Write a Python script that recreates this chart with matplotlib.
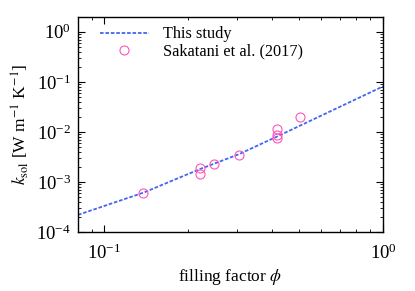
import matplotlib
matplotlib.use("Agg")
import matplotlib.pyplot as plt
from matplotlib.ticker import LogLocator, NullFormatter

plt.rcParams['font.family'] = ['Liberation Serif', 'DejaVu Serif']
plt.rcParams['mathtext.fontset'] = 'stix'

# This study (model curve, read at sample points)
model_phi = [0.0804, 0.138, 0.220, 0.304, 0.416, 1.0]
model_k = [2.2e-4, 6.1e-4, 1.80e-3, 3.58e-3, 8.05e-3, 8.1e-2]

# Sakatani et al. (2017)
obs_phi = [0.138, 0.221, 0.221, 0.247, 0.303, 0.416, 0.416, 0.416, 0.505]
obs_k = [6.1e-4, 1.88e-3, 1.43e-3, 2.32e-3, 3.42e-3, 1.13e-2, 8.6e-3, 7.6e-3, 1.97e-2]

fig = plt.figure(figsize=(4.15, 2.91), dpi=100)
ax = fig.add_axes([78/415, 1-232/291, (383-78)/415, (232-16.7)/291])

ax.plot(model_phi, model_k, color='#4466ee', linestyle=(0, (2, 1)), linewidth=1.3,
        label='This study')
ax.plot(obs_phi, obs_k, linestyle='none', marker='o', markersize=6.5,
        markerfacecolor='none', markeredgecolor='#ff55bb', markeredgewidth=0.8,
        label='Sakatani et al. (2017)')

ax.set_xscale('log')
ax.set_yscale('log')
ax.set_xlim(0.0804, 1.0)
ax.set_ylim(1e-4, 2.0)

ax.xaxis.set_major_locator(LogLocator(base=10, numticks=10))
ax.xaxis.set_minor_locator(LogLocator(base=10, subs=range(2, 10), numticks=10))
ax.yaxis.set_major_locator(LogLocator(base=10, numticks=10))
ax.yaxis.set_minor_locator(LogLocator(base=10, subs=range(2, 10), numticks=10))
ax.xaxis.set_minor_formatter(NullFormatter())
ax.yaxis.set_minor_formatter(NullFormatter())

ax.tick_params(which='both', direction='in', top=True, right=True, labelsize=13.5)
ax.tick_params(which='major', length=5, width=0.8)
ax.tick_params(which='minor', length=2.5, width=0.6)
ax.tick_params(axis='x', pad=8)
ax.tick_params(axis='y', pad=5)
for s in ax.spines.values():
    s.set_linewidth(1.0)

ax.set_xlabel(r'filling factor $\phi$', fontsize=12.5, labelpad=3)
ax.set_ylabel(r'$k_{\rm sol}$ [W m$^{-1}$ K$^{-1}$]', fontsize=12.5, labelpad=4)

ax.legend(loc='upper left', bbox_to_anchor=(0.04, 1.0), frameon=False,
          fontsize=11.7, handlelength=3.0, borderaxespad=0.2, borderpad=0.4,
          labelspacing=0.05, handletextpad=0.9)

fig.savefig('out.png', dpi=100)
